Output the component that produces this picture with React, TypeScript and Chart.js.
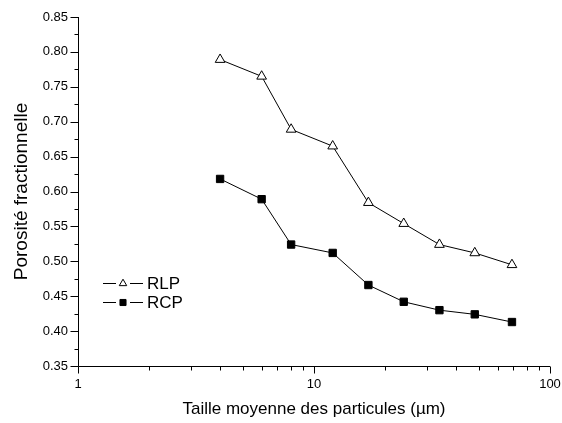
import React, { useEffect, useRef } from 'react';
import { Chart, registerables } from 'chart.js';

Chart.register(...registerables);

// Mean particle size (µm) and fractional porosity for the two packings
const particleSizes = [4, 6, 8, 12, 17, 24, 34, 48, 69];
const rlpPorosity = [0.789, 0.765, 0.689, 0.665, 0.584, 0.554, 0.524, 0.512, 0.495];
const rcpPorosity = [0.618, 0.589, 0.524, 0.512, 0.466, 0.442, 0.43, 0.424, 0.413];
const seriesNames = ['RLP', 'RCP'];

const xMin = 1;
const xMax = 100;
const yMin = 0.35;
const yMax = 0.85;
const yStep = 0.05;

const FONT = '"Liberation Sans", Arial, Helvetica, sans-serif';

type MarkerStyle = 'triangle' | 'rect';

function drawMarker(
  ctx: CanvasRenderingContext2D,
  style: MarkerStyle,
  x: number,
  y: number,
  r: number,
  fill: string,
  stroke: string
) {
  ctx.beginPath();
  if (style === 'triangle') {
    ctx.moveTo(x, y - r);
    ctx.lineTo(x + 0.866 * r, y + 0.5 * r);
    ctx.lineTo(x - 0.866 * r, y + 0.5 * r);
    ctx.closePath();
  } else {
    const h = r * Math.SQRT1_2;
    ctx.rect(x - h, y - h, 2 * h, 2 * h);
  }
  ctx.fillStyle = fill;
  ctx.fill();
  ctx.lineWidth = 1;
  ctx.strokeStyle = stroke;
  ctx.stroke();
}

// Axis lines with outward major/minor ticks (log minor ticks on x)
const axesPlugin = {
  id: 'outwardAxes',
  afterDraw(chart: any) {
    const { ctx, chartArea: a, scales } = chart;
    const xs = scales.x;
    const ys = scales.y;
    ctx.save();
    ctx.strokeStyle = '#000';
    ctx.lineWidth = 1;
    const ax = Math.round(a.left) + 0.5;
    const ay = Math.round(a.bottom) + 0.5;

    ctx.beginPath();
    ctx.moveTo(ax, a.top);
    ctx.lineTo(ax, ay);
    ctx.lineTo(a.right, ay);
    ctx.stroke();

    // x ticks: decades and their 2..9 subdivisions
    ctx.beginPath();
    for (let d = xMin; d < xMax * 1.0001; d *= 10) {
      for (let k = 1; k <= 9; k++) {
        const v = d * k;
        if (v > xMax * 1.0001) break;
        const px = Math.round(xs.getPixelForValue(v)) + 0.5;
        const len = k === 1 ? 7 : 4;
        ctx.moveTo(px, ay);
        ctx.lineTo(px, ay + len);
      }
    }
    ctx.stroke();

    // y ticks: labelled every 0.05, minor in between
    ctx.beginPath();
    const n = Math.round((yMax - yMin) / (yStep / 2));
    for (let i = 0; i <= n; i++) {
      const v = yMin + (i * yStep) / 2;
      const py = Math.round(ys.getPixelForValue(v)) + 0.5;
      const len = i % 2 === 0 ? 8 : 4;
      ctx.moveTo(ax, py);
      ctx.lineTo(ax - len, py);
    }
    ctx.stroke();
    ctx.restore();
  },
};

// Legend inside the plot: line – marker – line, then the series name
const legendPlugin = {
  id: 'inlineLegend',
  afterDraw(chart: any) {
    const { ctx, chartArea: a } = chart;
    ctx.save();
    const x0 = a.left + 25;
    chart.data.datasets.forEach((ds: any, i: number) => {
      const y = a.top + 266 + i * 19;
      ctx.strokeStyle = '#000';
      ctx.lineWidth = 1;
      ctx.beginPath();
      ctx.moveTo(x0, y + 0.5);
      ctx.lineTo(x0 + 13, y + 0.5);
      ctx.moveTo(x0 + 27, y + 0.5);
      ctx.lineTo(x0 + 40, y + 0.5);
      ctx.stroke();
      drawMarker(ctx, ds.pointStyle, x0 + 20, y + 0.5, 4.3, ds.pointBackgroundColor, '#000');
      ctx.fillStyle = '#000';
      ctx.font = `17px ${FONT}`;
      ctx.textAlign = 'left';
      ctx.textBaseline = 'middle';
      ctx.fillText(ds.label, x0 + 44, y + 1);
    });
    ctx.restore();
  },
};

export default function App() {
  const canvasRef = useRef<HTMLCanvasElement | null>(null);

  useEffect(() => {
    if (!canvasRef.current) return;
    const toPoints = (ys: number[]) => particleSizes.map((x, i) => ({ x, y: ys[i] }));
    const chart = new Chart(canvasRef.current, {
      type: 'line',
      data: {
        datasets: [
          {
            label: seriesNames[0],
            data: toPoints(rlpPorosity),
            borderColor: '#000',
            borderWidth: 1,
            pointStyle: 'triangle',
            pointRadius: 5.6,
            pointBorderWidth: 1,
            pointBorderColor: '#000',
            pointBackgroundColor: '#fff',
            tension: 0,
          },
          {
            label: seriesNames[1],
            data: toPoints(rcpPorosity),
            borderColor: '#000',
            borderWidth: 1,
            pointStyle: 'rect',
            pointRadius: 5.2,
            pointBorderWidth: 1,
            pointBorderColor: '#000',
            pointBackgroundColor: '#000',
            tension: 0,
          },
        ],
      },
      options: {
        responsive: false,
        animation: false,
        devicePixelRatio: 1,
        layout: { padding: { top: 17, right: 12, bottom: 0, left: 0 } },
        plugins: {
          legend: { display: false },
          tooltip: { enabled: false },
        },
        scales: {
          x: {
            type: 'logarithmic',
            min: xMin,
            max: xMax,
            grid: { display: false, drawTicks: false },
            border: { display: false },
            ticks: {
              autoSkip: false,
              maxRotation: 0,
              padding: 11,
              color: '#000',
              font: { family: FONT, size: 13 },
              callback: (v: any) => {
                const l = Math.log10(Number(v));
                return Math.abs(l - Math.round(l)) < 1e-9 ? String(Number(v)) : '';
              },
            },
            title: {
              display: true,
              text: 'Taille moyenne des particules (µm)',
              color: '#000',
              font: { family: FONT, size: 17 },
              padding: { top: 0, bottom: 3 },
            },
            afterFit: (s: any) => {
              s.height = 57;
              s.paddingLeft = 0;
              s.paddingRight = 0;
            },
          },
          y: {
            type: 'linear',
            min: yMin,
            max: yMax,
            grid: { display: false, drawTicks: false },
            border: { display: false },
            ticks: {
              stepSize: yStep,
              padding: 10,
              color: '#000',
              font: { family: FONT, size: 13 },
              callback: (v: any) => Number(v).toFixed(2),
            },
            title: {
              display: true,
              text: 'Porosité fractionnelle',
              color: '#000',
              font: { family: FONT, size: 19 },
              padding: { top: 10, bottom: 0 },
            },
            afterFit: (s: any) => {
              s.width = 78;
              s.paddingTop = 0;
              s.paddingBottom = 0;
            },
          },
        },
      } as any,
      plugins: [axesPlugin, legendPlugin],
    });
    return () => chart.destroy();
  }, []);

  return (
    <div style={{ position: 'fixed', left: 0, top: 0, width: 562, height: 423, background: '#fff' }}>
      <canvas ref={canvasRef} width={562} height={423} />
    </div>
  );
}
